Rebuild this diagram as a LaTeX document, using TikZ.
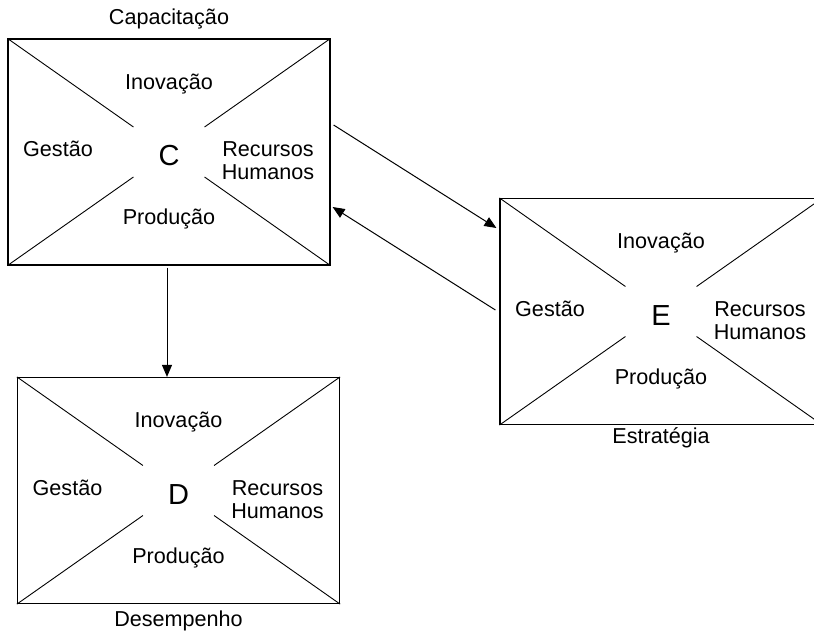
\documentclass[tikz,border=0pt]{standalone}
\usepackage{fontspec}
\setmainfont{Liberation Sans}
\usetikzlibrary{arrows.meta,calc}

\begin{document}
\begin{tikzpicture}[
  x=0.5pt, y=-0.5pt,
  quad_box/.style={draw, line width=0.6pt, minimum width=161pt, minimum height=113pt, inner sep=0pt},
  diag_line/.style={line width=0.45pt},
  area_text/.style={font=\fontsize{10.8}{11.6}\selectfont, align=center, inner sep=0pt},
  letter_text/.style={font=\fontsize{14.5}{16}\selectfont, inner sep=0pt},
  flow_arrow/.style={line width=0.5pt, -{Triangle[length=6pt, width=5pt]}},
]
\useasboundingbox (0,0) rectangle (814,632);
\clip (0,0) rectangle (814,632);

% the three boxes, each split by four half-diagonals
\foreach \n/\x/\y in {C/169/152, E/661/311.5, D/178.5/490.5} {
  \node[quad_box] (\n) at (\x,\y) {};
  \draw[diag_line] (\n.north west) -- ($(\n.north west)!0.78!(\n.center)$);
  \draw[diag_line] (\n.north east) -- ($(\n.north east)!0.78!(\n.center)$);
  \draw[diag_line] (\n.south west) -- ($(\n.south west)!0.78!(\n.center)$);
  \draw[diag_line] (\n.south east) -- ($(\n.south east)!0.78!(\n.center)$);
  \node[area_text] (\n-ino) at ($(\n.center)+(0,-68)$) {Inovação};
  \node[area_text] (\n-pro) at ($(\n.center)+(0,67)$) {Produção};
  \node[area_text] (\n-ges) at ($(\n.center)+(-111,-3)$) {Gestão};
  \node[area_text] (\n-rh) at ($(\n.center)+(99,9)$) {Recursos\\Humanos};
  \node[letter_text] (\n-let) at ($(\n.center)+(0,4)$) {\n};
}

% titles
\node[area_text] (C-title) at ($(C.north)+(0,-19)$) {Capacitação};
\node[area_text] (E-title) at ($(E.south)+(0,13)$) {Estratégia};
\node[area_text] (D-title) at ($(D.south)+(0,17)$) {Desempenho};

% arrows
\draw[flow_arrow] ($(C.east)+(3,-27)$) -- ($(E.west)+(-3,-83.5)$);
\draw[flow_arrow] ($(E.west)+(-4,-1.5)$) -- ($(C.east)+(2,55)$);
\coordinate (C-out) at ($(C.south)+(-2,2)$);
\draw[flow_arrow] (C-out) -- (C-out |- D.north);
\end{tikzpicture}
\end{document}
